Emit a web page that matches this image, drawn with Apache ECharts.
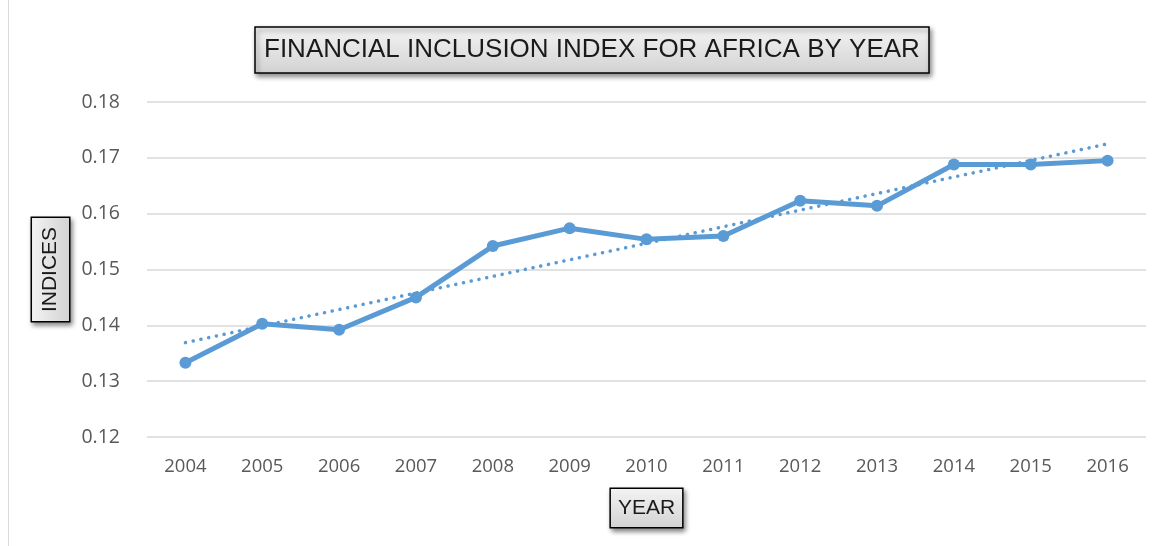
<!DOCTYPE html>
<html>
<head>
<meta charset="utf-8">
<script src="https://cdn.jsdelivr.net/npm/echarts@6/dist/echarts.min.js"></script>
<style>
  html, body { margin: 0; padding: 0; background: #fff; }
  #chart { width: 1166px; height: 546px; }
</style>
</head>
<body>
<div id="chart"></div>
<script>
// Financial inclusion index for Africa, 2004–2016
const years = ['2004', '2005', '2006', '2007', '2008', '2009', '2010', '2011', '2012', '2013', '2014', '2015', '2016'];
const indices = [0.1333, 0.1403, 0.1392, 0.1450, 0.1542, 0.1574, 0.1554, 0.1560, 0.1623, 0.1614, 0.1688, 0.1688, 0.1695];
// Linear trend line: its values at the first and last year
const trendStart = 0.1369;
const trendEnd = 0.1725;
const yTicks = { min: 0.12, max: 0.18, step: 0.01 };

const trend = years.map((_, i) => i === 0 ? trendStart : (i === years.length - 1 ? trendEnd : null));

const FONT = '"Liberation Sans", "DejaVu Sans", sans-serif';
const LABEL_FONT = '"Open Sans", "Liberation Sans", sans-serif';
const boxFill = {
  type: 'linear', x: 0, y: 0, x2: 0, y2: 1,
  colorStops: [{ offset: 0, color: '#f4f4f4' }, { offset: 1, color: '#d2d2d2' }]
};
const boxStyle = {
  backgroundColor: boxFill,
  borderColor: '#000',
  borderWidth: 1.5,
  shadowColor: 'rgba(0,0,0,0.45)',
  shadowBlur: 5,
  shadowOffsetX: 2,
  shadowOffsetY: 3
};

const chart = echarts.init(document.getElementById('chart'));
chart.setOption({
  animation: false,
  backgroundColor: '#fff',
  title: {
    text: 'FINANCIAL INCLUSION INDEX FOR AFRICA BY YEAR',
    left: 255,
    top: 27,
    padding: [10, 9, 10, 9],
    textStyle: { fontFamily: FONT, fontSize: 26, fontWeight: 'normal', color: '#1a1a1a' },
    ...boxStyle
  },
  grid: { left: 147, right: 20, top: 102, bottom: 109, containLabel: false },
  xAxis: {
    type: 'category',
    data: years,
    boundaryGap: true,
    name: 'YEAR',
    nameLocation: 'middle',
    nameGap: 52,
    nameTextStyle: {
      fontFamily: FONT, fontSize: 21, color: '#1a1a1a',
      padding: [9, 7, 8, 7],
      ...boxStyle
    },
    axisLine: { show: false },
    axisTick: { show: false },
    axisLabel: { fontFamily: LABEL_FONT, fontSize: 18.5, color: '#595959', margin: 20 }
  },
  yAxis: {
    type: 'value',
    min: yTicks.min,
    max: yTicks.max,
    interval: yTicks.step,
    name: 'INDICES',
    nameLocation: 'middle',
    nameRotate: 90,
    nameGap: 68,
    nameTextStyle: {
      fontFamily: FONT, fontSize: 21, color: '#1a1a1a',
      padding: [8, 9, 8, 9],
      ...boxStyle
    },
    axisLine: { show: false },
    axisTick: { show: false },
    axisLabel: {
      fontFamily: LABEL_FONT, fontSize: 19.5, color: '#595959', margin: 27,
      formatter: v => v.toFixed(2)
    },
    splitLine: { lineStyle: { color: '#d9d9d9', width: 1.5 } }
  },
  graphic: [
    { type: 'line', shape: { x1: 8.5, y1: 0, x2: 8.5, y2: 546 }, style: { stroke: '#d9d9d9', lineWidth: 1 } }
  ],
  series: [
    {
      name: 'Index',
      type: 'line',
      data: indices,
      symbol: 'circle',
      symbolSize: 12,
      itemStyle: { color: '#5b9bd5' },
      lineStyle: { color: '#5b9bd5', width: 5 },
      z: 3
    },
    {
      name: 'Linear trend',
      type: 'line',
      data: trend,
      connectNulls: true,
      symbol: 'none',
      lineStyle: { color: '#5b9bd5', width: 3.5, type: [0.1, 7.8], cap: 'round' },
      z: 2
    }
  ]
});
</script>
</body>
</html>
